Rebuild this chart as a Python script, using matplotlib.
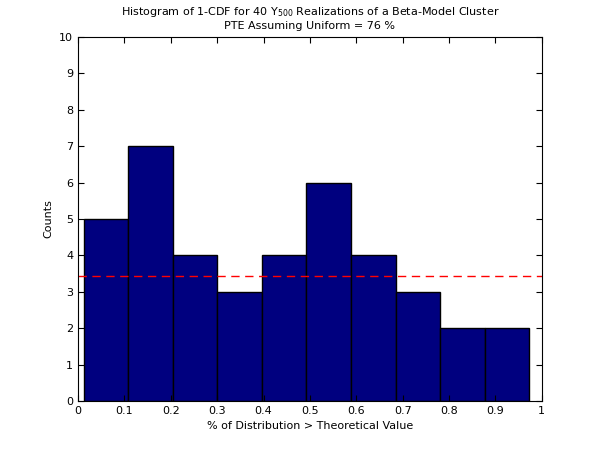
import matplotlib
matplotlib.use("Agg")
import matplotlib.pyplot as plt
import numpy as np

edges = [0.013, 0.108, 0.205, 0.300, 0.397, 0.491, 0.588, 0.685, 0.780, 0.877, 0.972]
counts = [5, 7, 4, 3, 4, 6, 4, 3, 2, 2]
expected = 3.42
xticks = [0, 0.1, 0.2, 0.3, 0.4, 0.5, 0.6, 0.7, 0.8, 0.9, 1]
yticks = list(range(0, 11))

plt.rcParams['font.family'] = 'DejaVu Sans'
plt.rcParams['font.size'] = 8
fig = plt.figure(figsize=(6, 4.5), dpi=100)
ax = fig.add_axes([0.13, 0.109, 0.773, 0.809])
e = np.array(edges)
ax.bar(e[:-1], counts, width=np.diff(e), align='edge', color='#00007f', edgecolor='black', linewidth=1)
ax.axhline(expected, color='red', linestyle=(0, (6, 4)), linewidth=1)
ax.set_xlim(0, 1)
ax.set_ylim(0, 10)
ax.set_xticks(xticks)
ax.set_xticklabels([f"{t:g}" for t in xticks])
ax.set_yticks(yticks)
ax.tick_params(direction='in', top=True, right=True, length=4)
ax.set_xlabel('% of Distribution > Theoretical Value')
ax.set_ylabel('Counts')
ax.set_title('Histogram of 1-CDF for 40 Y$_{500}$ Realizations of a Beta-Model Cluster\nPTE Assuming Uniform = 76 %', fontsize=8)
fig.savefig('out.png', dpi=100)
